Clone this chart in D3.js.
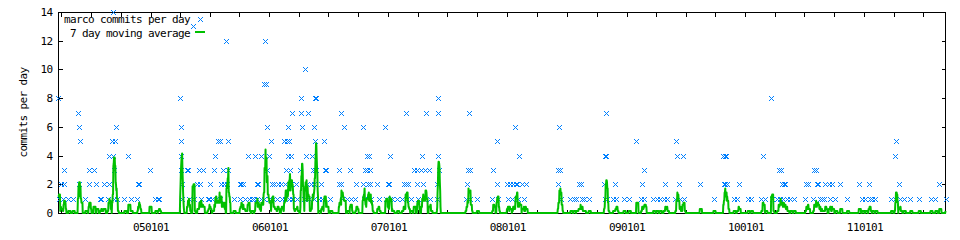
<!DOCTYPE html>
<html>
<head>
<meta charset="utf-8">
<script src="https://cdn.jsdelivr.net/npm/d3@7"></script>
<style>
  body { margin: 0; background: #fff; }
  svg text {
    font-family: "DejaVu Sans Mono", monospace;
    font-size: 11px;
    letter-spacing: -0.62px;
    fill: #000;
  }
</style>
</head>
<body>
<div class="canvas"></div>
<script>
const width = 960;
const height = 240;

// days are counted from this date
const epoch = new Date(Date.UTC(2004, 0, 1));

// days on which marco made N commits
const daysWith1 = [85, 97, 114, 127, 166, 211, 215, 234, 253, 262, 286, 305, 326, 381, 389, 392, 463, 484, 498,
  521, 541, 544, 556, 567, 580, 621, 642, 657, 667, 676, 685, 692, 704, 714, 731, 741, 753, 769, 780, 791, 801,
  804, 816, 837, 852, 868, 882, 893, 918, 953, 970, 980, 995, 1021, 1044, 1066, 1090, 1102, 1108, 1123, 1138,
  1153, 1164, 1187, 1206, 1225, 1245, 1333, 1348, 1368, 1415, 1432, 1463, 1476, 1493, 1512, 1626, 1655, 1665,
  1673, 1689, 1696, 1711, 1760, 1768, 1786, 1796, 1818, 1834, 1872, 1880, 1909, 1919, 1929, 1941, 1951, 1977,
  1992, 2002, 2094, 2156, 2166, 2199, 2209, 2241, 2253, 2274, 2289, 2297, 2307, 2320, 2330, 2340, 2376, 2400,
  2421, 2427, 2434, 2452, 2468, 2504, 2550, 2560, 2573, 2581, 2591, 2639, 2650, 2667, 2678, 2698, 2724, 2760,
  2775, 2806];
const daysWith2 = [90, 101, 147, 178, 200, 222, 240, 328, 331, 462, 510, 519, 547, 581, 590, 601, 640, 645, 650,
  694, 697, 739, 746, 756, 767, 779, 796, 811, 845, 859, 867, 890, 946, 950, 998, 1019, 1034, 1039, 1062, 1094,
  1099, 1143, 1151, 1156, 1184, 1203, 1246, 1336, 1430, 1460, 1468, 1479, 1487, 1491, 1506, 1517, 1616, 1680,
  1686, 1758, 1793, 1875, 1946, 1987, 2052, 2126, 2130, 2136, 2171, 2304, 2309, 2314, 2379, 2384, 2412, 2416,
  2437, 2448, 2458, 2483, 2540, 2570, 2662, 2787];
const daysWith3 = [99, 176, 191, 254, 363, 461, 478, 481, 516, 526, 562, 587, 603, 724, 781, 794, 826, 864, 871,
  873, 900, 906, 944, 978, 1023, 1029, 1041, 1174, 1185, 1197, 1207, 1220, 1250, 1339, 1346, 1418, 1618, 1624,
  1882, 2294, 2300, 2403, 2409];
const daysWith4 = [237, 250, 298, 460, 565, 664, 688, 706, 729, 788, 797, 842, 862, 1030, 1036, 1100, 1200, 1248,
  1498, 1761, 1765, 1983, 1999, 2124, 2128, 2133, 2245, 2652];
const daysWith5 = [151, 248, 256, 458, 572, 578, 605, 737, 776, 784, 792, 870, 898, 1428, 1857, 1980, 2654];
const daysWith6 = [145, 259, 459, 722, 789, 831, 869, 959, 1017, 1087, 1486, 1621];
const daysWith7 = [143, 799, 829, 848, 952, 1149, 1210, 1247, 1342, 1763];
const daysWith8 = [82, 457, 827, 872, 874, 1249, 2271];
const daysWith9 = [713, 719];
const daysWith10 = [839];
const daysWith12 = [599, 716];
const daysWith13 = [495];
const daysWith14 = [252];

const yTicks = [0, 2, 4, 6, 8, 10, 12, 14];
const seriesNames = ['marco commits per day', '7 day moving average'];
const yTitle = 'commits per day';
const windowDays = 7;

const pointColor = '#0080ff';
const lineColor = '#00c000';

const levels = [
  [1, daysWith1], [2, daysWith2], [3, daysWith3], [4, daysWith4], [5, daysWith5],
  [6, daysWith6], [7, daysWith7], [8, daysWith8], [9, daysWith9], [10, daysWith10],
  [12, daysWith12], [13, daysWith13], [14, daysWith14]
];

const points = levels.flatMap(([count, days]) => days.map((day) => ({ day, count })));
const [firstDay, lastDay] = d3.extent(points, (d) => d.day);

// commits for every day, zero days included
const daily = new Array(lastDay - firstDay + 1).fill(0);
points.forEach((p) => (daily[p.day - firstDay] += p.count));
const average = daily.map((_, i) => ({
  day: firstDay + i,
  value: d3.sum(daily.slice(Math.max(0, i - windowDays + 1), i + 1)) / windowDays
}));

const toDate = (day) => d3.utcDay.offset(epoch, day);

const plotLeft = 58;
const plotRight = 945.5;
const plotTop = 12;
const plotBottom = 213;

const xScale = d3.scaleUtc().domain([toDate(firstDay), toDate(lastDay)]).range([plotLeft, plotRight]);
const yScale = d3.scaleLinear().domain([0, 14]).range([plotBottom, plotTop]);

const canvas = d3
  .select('.canvas')
  .append('svg')
  .attr('width', width)
  .attr('height', height);

const quarterTicks = xScale.ticks(d3.utcMonth.every(3));
const dayLabel = d3.utcFormat('%y%m%d');

// x axis, labelled only on new year
canvas
  .append('g')
  .attr('transform', `translate(0,${plotBottom + 0.5})`)
  .attr('shape-rendering', 'crispEdges')
  .call(
    d3.axisBottom(xScale)
      .tickValues(quarterTicks)
      .tickSizeInner(-4)
      .tickSizeOuter(0)
      .tickPadding(10)
      .tickFormat((d) => (d.getUTCMonth() === 0 ? dayLabel(d) : ''))
  );

canvas
  .append('g')
  .attr('transform', `translate(0,${plotTop + 0.5})`)
  .attr('shape-rendering', 'crispEdges')
  .call(d3.axisTop(xScale).tickValues(quarterTicks).tickSizeInner(-4).tickSizeOuter(0).tickFormat(''));

canvas
  .append('g')
  .attr('transform', `translate(${plotLeft + 0.5},0)`)
  .attr('shape-rendering', 'crispEdges')
  .call(d3.axisLeft(yScale).tickValues(yTicks).tickSizeInner(-4).tickSizeOuter(0).tickPadding(6));

canvas
  .append('g')
  .attr('transform', `translate(${plotRight},0)`)
  .attr('shape-rendering', 'crispEdges')
  .call(d3.axisRight(yScale).tickValues(yTicks).tickSizeInner(-4).tickSizeOuter(0).tickFormat(''));

canvas.selectAll('.domain').remove();
canvas.selectAll('.tick line').attr('stroke', '#000');
canvas.selectAll('g').attr('font-family', null).attr('font-size', null);

// plot border
canvas
  .append('rect')
  .attr('x', plotLeft + 0.5)
  .attr('y', plotTop + 0.5)
  .attr('width', plotRight - plotLeft - 0.5)
  .attr('height', plotBottom - plotTop)
  .attr('fill', 'none')
  .attr('stroke', '#000')
  .attr('shape-rendering', 'crispEdges');

canvas
  .append('text')
  .attr('transform', `translate(23,${(plotTop + plotBottom) / 2}) rotate(-90)`)
  .attr('text-anchor', 'middle')
  .attr('dy', '0.35em')
  .text(yTitle);

const cross = 'M-2.5,-2.5L2.5,2.5M-2.5,2.5L2.5,-2.5';

canvas
  .append('g')
  .selectAll('path')
  .data(points)
  .enter()
  .append('path')
  .attr('d', cross)
  .attr('transform', (d) =>
    `translate(${Math.round(xScale(toDate(d.day))) + 0.5},${Math.round(yScale(d.count)) + 0.5})`)
  .attr('fill', 'none')
  .attr('stroke', pointColor)
  .attr('stroke-width', 1);

const line = d3
  .line()
  .x((d) => xScale(toDate(d.day)))
  .y((d) => yScale(d.value));

canvas
  .append('path')
  .datum(average)
  .attr('d', line)
  .attr('fill', 'none')
  .attr('stroke', lineColor)
  .attr('stroke-width', 2)
  .attr('stroke-linejoin', 'round');

// key
const key = canvas.append('g');
key
  .selectAll('text')
  .data(seriesNames)
  .enter()
  .append('text')
  .attr('x', 190)
  .attr('y', (d, i) => 19.5 + i * 13.5)
  .attr('dy', '0.35em')
  .attr('text-anchor', 'end')
  .text((d) => d);

key
  .append('path')
  .attr('d', cross)
  .attr('transform', 'translate(200.5,19.5)')
  .attr('fill', 'none')
  .attr('stroke', pointColor);

key
  .append('line')
  .attr('x1', 195)
  .attr('x2', 205)
  .attr('y1', 32)
  .attr('y2', 32)
  .attr('stroke', lineColor)
  .attr('stroke-width', 2);
</script>
</body>
</html>
